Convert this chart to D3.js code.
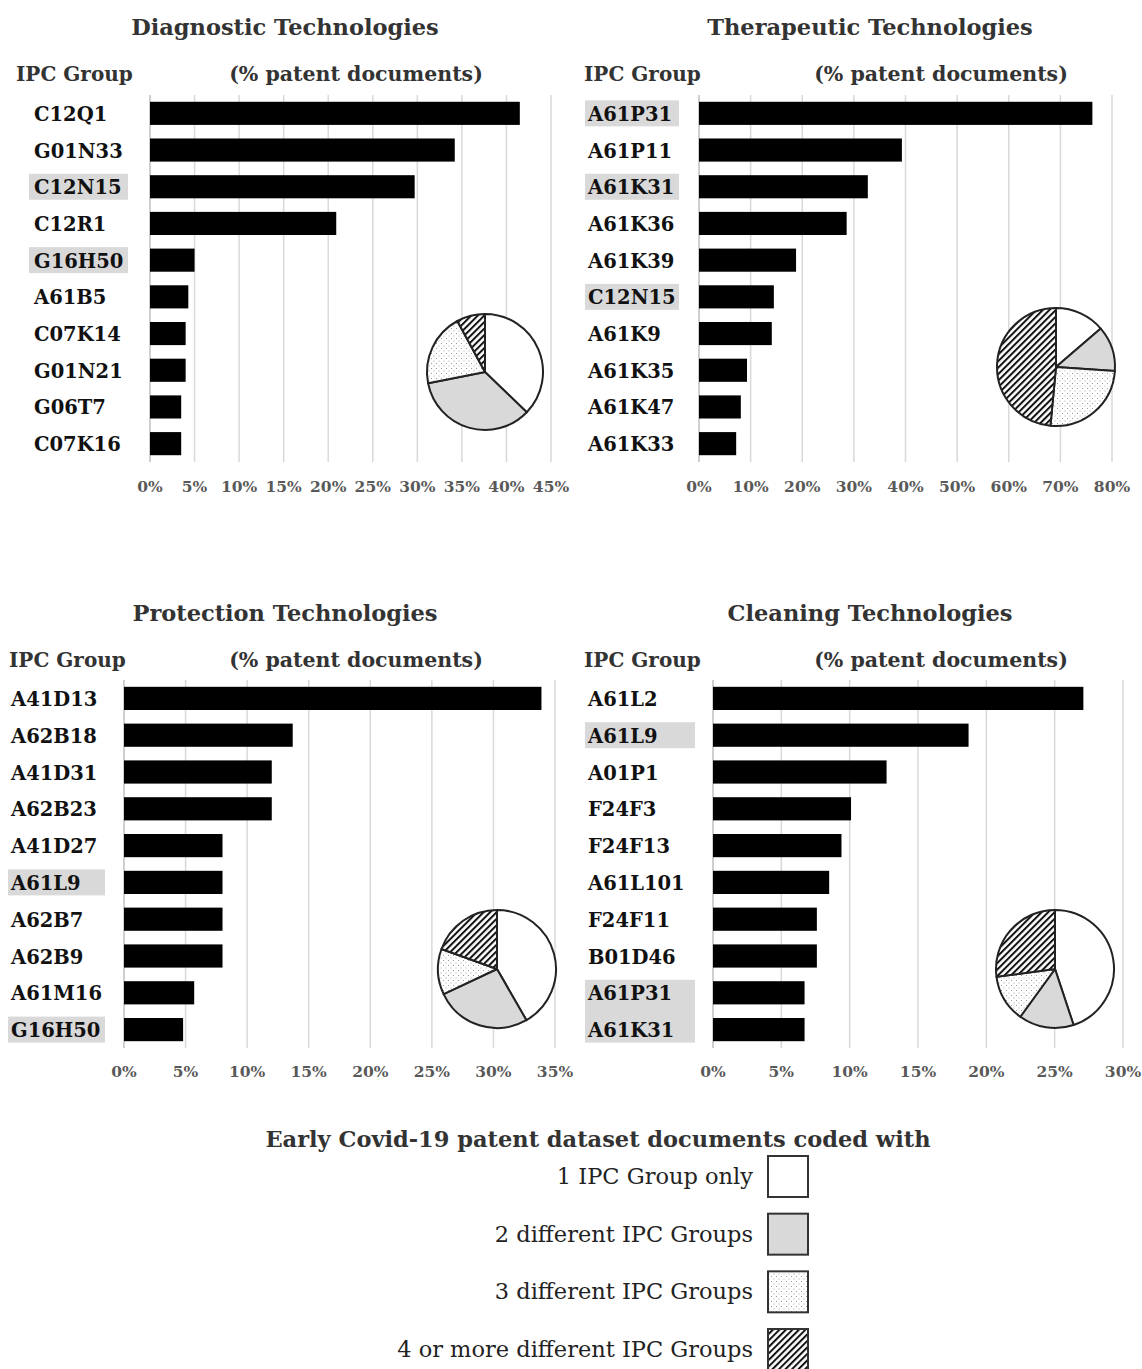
<!DOCTYPE html>
<html><head><meta charset="utf-8">
<script src="https://cdn.jsdelivr.net/npm/d3@7"></script>
<style>
body{margin:0;background:#fff;}
svg text{font-family:"DejaVu Serif","Liberation Serif",serif;}
</style></head><body>
<svg id="c" width="1142" height="1369"></svg>
<script>
// ---------- DATA ----------
const diagCats = ["C12Q1","G01N33","C12N15","C12R1","G16H50","A61B5","C07K14","G01N21","G06T7","C07K16"];
const diagVals = [41.5,34.2,29.7,20.9,5.0,4.3,4.0,4.0,3.5,3.5];
const diagHi = ["C12N15","G16H50"];
const diagTicks = [0,5,10,15,20,25,30,35,40,45];
const diagPie = [37.2,34.7,20.2,7.9];

const therCats = ["A61P31","A61P11","A61K31","A61K36","A61K39","C12N15","A61K9","A61K35","A61K47","A61K33"];
const therVals = [76.2,39.3,32.7,28.6,18.8,14.5,14.1,9.3,8.1,7.2];
const therHi = ["A61P31","A61K31","C12N15"];
const therTicks = [0,10,20,30,40,50,60,70,80];
const therPie = [13.7,12.4,25.4,48.5];

const protCats = ["A41D13","A62B18","A41D31","A62B23","A41D27","A61L9","A62B7","A62B9","A61M16","G16H50"];
const protVals = [33.9,13.7,12.0,12.0,8.0,8.0,8.0,8.0,5.7,4.8];
const protHi = ["A61L9","G16H50"];
const protTicks = [0,5,10,15,20,25,30,35];
const protPie = [41.7,26.3,12.5,19.5];

const cleanCats = ["A61L2","A61L9","A01P1","F24F3","F24F13","A61L101","F24F11","B01D46","A61P31","A61K31"];
const cleanVals = [27.1,18.7,12.7,10.1,9.4,8.5,7.6,7.6,6.7,6.7];
const cleanHi = ["A61L9","A61P31","A61K31"];
const cleanTicks = [0,5,10,15,20,25,30];
const cleanPie = [44.9,15.1,12.9,27.1];

const legendLabels = ["1 IPC Group only","2 different IPC Groups","3 different IPC Groups","4 or more different IPC Groups"];
const titles = ["Diagnostic Technologies","Therapeutic Technologies","Protection Technologies","Cleaning Technologies"];

// ---------- DRAW ----------
const svg = d3.select("#c");
const defs = svg.append("defs");
const dots = defs.append("pattern").attr("id","dots").attr("patternUnits","userSpaceOnUse").attr("width",5).attr("height",5);
dots.append("rect").attr("width",5).attr("height",5).attr("fill","#fff");
dots.append("rect").attr("x",1).attr("y",1).attr("width",1).attr("height",1).attr("fill","#999");
dots.append("rect").attr("x",3.5).attr("y",3.5).attr("width",1).attr("height",1).attr("fill","#aaa");
const hatch = defs.append("pattern").attr("id","hatch").attr("patternUnits","userSpaceOnUse").attr("width",4.6).attr("height",4.6).attr("patternTransform","rotate(45)");
hatch.append("rect").attr("width",4.6).attr("height",4.6).attr("fill","#fff");
hatch.append("rect").attr("x",0).attr("y",0).attr("width",2).attr("height",4.6).attr("fill","#111");
const fills = ["#ffffff","#d9d9d9","url(#dots)","url(#hatch)"];

const panels = [
  {cats:diagCats, vals:diagVals, hi:diagHi, ticks:diagTicks, pie:diagPie, title:titles[0],
   titleX:285, titleY:27, hdrX:16, hdrY:74, pctX:356, x0:150, x1:551, y0:95, y1:462, tickY:486,
   labX:34, hiX:29, hiW:99, pieC:[485,372], pieR:58},
  {cats:therCats, vals:therVals, hi:therHi, ticks:therTicks, pie:therPie, title:titles[1],
   titleX:870, titleY:27, hdrX:584, hdrY:74, pctX:941, x0:699, x1:1112, y0:95, y1:462, tickY:486,
   labX:588, hiX:585, hiW:94, pieC:[1056,367], pieR:59},
  {cats:protCats, vals:protVals, hi:protHi, ticks:protTicks, pie:protPie, title:titles[2],
   titleX:285, titleY:613, hdrX:9, hdrY:660, pctX:356, x0:124, x1:555, y0:680, y1:1048, tickY:1071,
   labX:11, hiX:8, hiW:97, pieC:[497,969], pieR:59},
  {cats:cleanCats, vals:cleanVals, hi:cleanHi, ticks:cleanTicks, pie:cleanPie, title:titles[3],
   titleX:870, titleY:613, hdrX:584, hdrY:660, pctX:941, x0:713, x1:1123, y0:680, y1:1048, tickY:1071,
   labX:588, hiX:585, hiW:110, pieC:[1055,969], pieR:59}
];

panels.forEach(p => {
  const g = svg.append("g");
  const maxT = p.ticks[p.ticks.length-1];
  const x = d3.scaleLinear().domain([0,maxT]).range([p.x0,p.x1]);
  const y = d3.scaleBand().domain(p.cats).range([p.y0,p.y1]).paddingInner(0.37).paddingOuter(0.185);

  g.append("text").attr("x",p.titleX).attr("y",p.titleY).attr("text-anchor","middle").attr("dominant-baseline","central")
    .attr("font-size",22.5).attr("font-weight","bold").attr("fill","#333").text(p.title);
  g.append("text").attr("x",p.hdrX).attr("y",p.hdrY).attr("dominant-baseline","central")
    .attr("font-size",20).attr("font-weight","bold").attr("fill","#333").text("IPC Group");
  g.append("text").attr("x",p.pctX).attr("y",p.hdrY).attr("text-anchor","middle").attr("dominant-baseline","central")
    .attr("font-size",20.5).attr("font-weight","bold").attr("fill","#333").text("(% patent documents)");

  // highlight boxes (merged when consecutive)
  const hiRows = p.cats.map((c,i)=>p.hi.includes(c)?i:-1).filter(i=>i>=0);
  const groups = [];
  hiRows.forEach(i=>{
    const last = groups[groups.length-1];
    if(last && last[1]===i-1) last[1]=i; else groups.push([i,i]);
  });
  g.selectAll(".hi").data(groups).join("rect")
    .attr("x",p.hiX).attr("width",p.hiW)
    .attr("y",d=>y(p.cats[d[0]])+y.bandwidth()/2-13)
    .attr("height",d=>y(p.cats[d[1]])-y(p.cats[d[0]])+26).attr("fill","#d9d9d9");

  // gridlines
  g.selectAll(".grid").data(p.ticks).join("line")
    .attr("x1",d=>x(d)).attr("x2",d=>x(d)).attr("y1",p.y0).attr("y2",p.y1)
    .attr("stroke",d=>d===0?"#bfbfbf":"#d9d9d9").attr("stroke-width",1.5);

  // ticks
  g.selectAll(".tick").data(p.ticks).join("text")
    .attr("x",d=>x(d)).attr("y",p.tickY).attr("text-anchor","middle").attr("dominant-baseline","central")
    .attr("font-size",15.5).attr("font-weight","bold").attr("fill","#595959").text(d=>d+"%");

  // labels
  g.selectAll(".lab").data(p.cats).join("text")
    .attr("x",p.labX).attr("y",d=>y(d)+y.bandwidth()/2+1).attr("dominant-baseline","central")
    .attr("font-size",19.5).attr("font-weight","bold").attr("fill","#111").text(d=>d);

  // bars
  g.selectAll(".bar").data(p.cats).join("rect")
    .attr("x",x(0)).attr("y",d=>y(d)).attr("height",y.bandwidth())
    .attr("width",(d,i)=>x(p.vals[i])-x(0)).attr("fill","#000");

  // pie
  const pie = d3.pie().sort(null).value(d=>d);
  const arc = d3.arc().innerRadius(0).outerRadius(p.pieR);
  const pg = g.append("g").attr("transform",`translate(${p.pieC[0]},${p.pieC[1]})`);
  pg.selectAll("path").data(pie(p.pie)).join("path")
    .attr("d",arc).attr("fill",(d,i)=>fills[i]).attr("stroke","#222").attr("stroke-width",2).attr("stroke-linejoin","round");
});

// legend
const lg = svg.append("g");
lg.append("text").attr("x",598).attr("y",1139).attr("text-anchor","middle").attr("dominant-baseline","central")
  .attr("font-size",22.5).attr("font-weight","bold").attr("fill","#333").text("Early Covid-19 patent dataset documents coded with");
const ly = d3.scalePoint().domain(legendLabels).range([1176,1349]);
lg.selectAll(".lt").data(legendLabels).join("text")
  .attr("x",753).attr("y",d=>ly(d)).attr("text-anchor","end").attr("dominant-baseline","central")
  .attr("font-size",22.5).attr("fill","#222").text(d=>d);
lg.selectAll(".lb").data(legendLabels).join("rect")
  .attr("x",768).attr("y",d=>ly(d)-20).attr("width",40).attr("height",41)
  .attr("fill",(d,i)=>fills[i]).attr("stroke","#333").attr("stroke-width",2);
</script>
</body></html>
